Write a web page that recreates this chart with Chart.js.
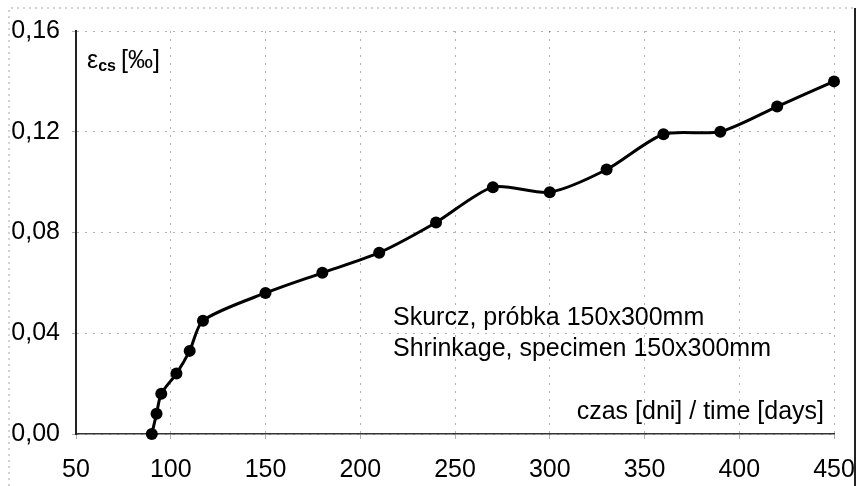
<!DOCTYPE html>
<html>
<head>
<meta charset="utf-8">
<script src="https://cdn.jsdelivr.net/npm/chart.js@4"></script>
<style>
  html, body { margin: 0; padding: 0; background: #fff; }
  #wrap { width: 856px; height: 486px; }
</style>
</head>
<body>
<div id="wrap"><canvas id="myChart" width="856" height="486"></canvas></div>
<script>
// data
const days = [90, 92.5, 95, 103, 110, 117, 150, 180, 210, 240, 270, 300, 330, 360, 390, 420, 450];
const shrinkage = [0.000, 0.008, 0.016, 0.024, 0.033, 0.045, 0.056, 0.064, 0.072, 0.084, 0.098, 0.096, 0.105, 0.119, 0.120, 0.130, 0.140];
const xTicks = [50, 100, 150, 200, 250, 300, 350, 400, 450];
const yTicks = [0, 0.04, 0.08, 0.12, 0.16];
const noteLines = ['Skurcz, próbka 150x300mm', 'Shrinkage, specimen 150x300mm'];
const xTitle = 'czas [dni] / time [days]';

const font = 'Liberation Sans, Arial, sans-serif';

// points for the line dataset
const points = [];
for (let i = 0; i < days.length; i++) {
    points.push({x: days[i], y: shrinkage[i]});
}

// texts inside the plot + outer frame
const textPlugin = {
    id: 'texts',
    afterDraw(chart) {
        const ctx = chart.ctx;
        const area = chart.chartArea;
        ctx.save();

        // outer frame, faint dotted like the scan
        ctx.strokeStyle = 'rgba(0,0,0,0.35)';
        ctx.setLineDash([2, 4]);
        ctx.lineWidth = 1;
        ctx.beginPath();
        ctx.moveTo(9, 486);
        ctx.lineTo(9, 8);
        ctx.lineTo(854, 8);
        ctx.stroke();
        ctx.setLineDash([]);
        ctx.strokeStyle = '#222';
        ctx.lineWidth = 2;
        ctx.beginPath();
        ctx.moveTo(855, 8);
        ctx.lineTo(855, 486);
        ctx.stroke();

        ctx.fillStyle = '#000';
        ctx.textBaseline = 'alphabetic';

        // y axis label: eps_cs [‰]
        ctx.textAlign = 'left';
        ctx.font = '25px ' + font;
        const lx = area.left + 11;
        const ly = area.top + 37;
        ctx.fillText('ε', lx, ly);
        let w = ctx.measureText('ε').width;
        ctx.font = 'bold 16px ' + font;
        ctx.fillText('cs', lx + w, ly + 3);
        w += ctx.measureText('cs').width + 5;
        ctx.font = '25px ' + font;
        ctx.fillText('[‰]', lx + w, ly);

        // notes
        ctx.font = '25px ' + font;
        ctx.fillText(noteLines[0], 393, 325);
        ctx.fillText(noteLines[1], 393, 356);

        // x axis title
        ctx.textAlign = 'right';
        ctx.fillText(xTitle, area.right - 10, 419);
        ctx.restore();
    }
};

const data = {
    datasets: [{
        label: 'shrinkage',
        data: points,
        borderColor: '#000',
        backgroundColor: '#000',
        borderWidth: 3,
        pointRadius: 6,
        pointBackgroundColor: '#000',
        pointBorderWidth: 0,
        tension: 0.25,
        clip: false
    }]
};

const config = {
    type: 'line',
    data,
    options: {
        responsive: false,
        animation: false,
        layout: {
            padding: {left: 0, right: 22, top: 31, bottom: 0}
        },
        plugins: {
            legend: {display: false},
            tooltip: {enabled: false}
        },
        scales: {
            x: {
                type: 'linear',
                min: 50,
                max: 450,
                afterBuildTicks: (scale) => {
                    scale.ticks = xTicks.map(v => ({value: v}));
                },
                afterFit: (scale) => {
                    scale.height = 52;
                    scale.paddingLeft = 0;
                    scale.paddingRight = 0;
                },
                grid: {
                    color: 'rgba(0,0,0,0.3)',
                    lineWidth: 1,
                    tickLength: 5
                },
                border: {display: true, color: '#333', width: 1.5, dash: [2, 6]},
                ticks: {
                    color: '#000',
                    font: {family: font, size: 25},
                    padding: 16,
                    maxRotation: 0,
                    autoSkip: false
                }
            },
            y: {
                type: 'linear',
                min: 0,
                max: 0.16,
                afterBuildTicks: (scale) => {
                    scale.ticks = yTicks.map(v => ({value: v}));
                },
                afterFit: (scale) => {
                    scale.width = 76;
                    scale.paddingTop = 0;
                    scale.paddingBottom = 0;
                },
                grid: {
                    color: 'rgba(0,0,0,0.3)',
                    lineWidth: 1,
                    tickLength: 4
                },
                border: {display: true, color: '#222', width: 2, dash: [2, 6]},
                ticks: {
                    color: '#000',
                    font: {family: font, size: 25},
                    padding: 12,
                    callback: (v) => v.toFixed(2).replace('.', ',')
                }
            }
        }
    },
    plugins: [textPlugin]
};

const myChart = new Chart(document.getElementById('myChart'), config);
</script>
</body>
</html>
